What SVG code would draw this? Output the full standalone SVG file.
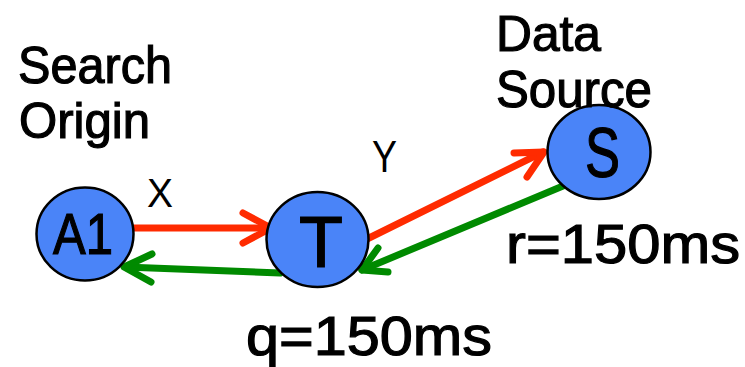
<svg xmlns="http://www.w3.org/2000/svg" width="745" height="367" viewBox="0 0 745 367">
<style>
.node{fill:#4a84f8;stroke:#000;stroke-width:2.5}
.t{font-family:"Liberation Sans",Arial,sans-serif;fill:#000}
.b{stroke:#000;stroke-width:1.2}
.red{stroke:#ff2b00;stroke-width:7;fill:none;stroke-linecap:round;stroke-linejoin:round}
.green{stroke:#008a00;stroke-width:7;fill:none;stroke-linecap:round;stroke-linejoin:round}
</style>
<rect width="745" height="367" fill="#fff"/>
<g id="connectors">
<path class="red" d="M133 228 H270"/>
<path class="red" d="M243 213 L271 228 L243 243"/>
<path class="green" d="M280 273 L125 267"/>
<path class="green" d="M152 254 L124 267 L151 282"/>
<path class="red" d="M367 239 L543 152"/>
<path class="red" d="M514 153 L544 152 L527 177"/>
<path class="green" d="M563 186 L362 270"/>
<path class="green" d="M378 248 L362 270 L388 272"/>
</g>
<g id="A1">
<ellipse class="node" cx="85" cy="234" rx="48.5" ry="46.5"/>
<text class="t b" x="53" y="254" font-size="57" textLength="60" lengthAdjust="spacingAndGlyphs">A1</text>
</g>
<g id="T">
<ellipse class="node" cx="317.5" cy="239.5" rx="51" ry="47.5"/>
<text class="t b" x="299" y="267" font-size="72" textLength="44" lengthAdjust="spacingAndGlyphs">T</text>
</g>
<g id="S">
<ellipse class="node" cx="599" cy="152" rx="51.5" ry="47"/>
<text class="t b" x="585" y="177" font-size="70" textLength="35" lengthAdjust="spacingAndGlyphs">S</text>
</g>
<g id="labels">
<text class="t b" x="18" y="83" font-size="52" textLength="154" lengthAdjust="spacingAndGlyphs">Search</text>
<text class="t b" x="19" y="138" font-size="50" textLength="131" lengthAdjust="spacingAndGlyphs">Origin</text>
<text class="t b" x="496" y="51" font-size="50" textLength="105" lengthAdjust="spacingAndGlyphs">Data</text>
<text class="t b" x="496" y="107" font-size="52" textLength="156" lengthAdjust="spacingAndGlyphs">Source</text>
<text class="t" x="147" y="207" font-size="41" textLength="26" lengthAdjust="spacingAndGlyphs">X</text>
<text class="t" x="372" y="172" font-size="44" textLength="25" lengthAdjust="spacingAndGlyphs">Y</text>
<text class="t b" x="506" y="263" font-size="56" textLength="234" lengthAdjust="spacingAndGlyphs">r=150ms</text>
<text class="t b" x="246" y="355" font-size="56" textLength="246" lengthAdjust="spacingAndGlyphs">q=150ms</text>
</g>
</svg>
